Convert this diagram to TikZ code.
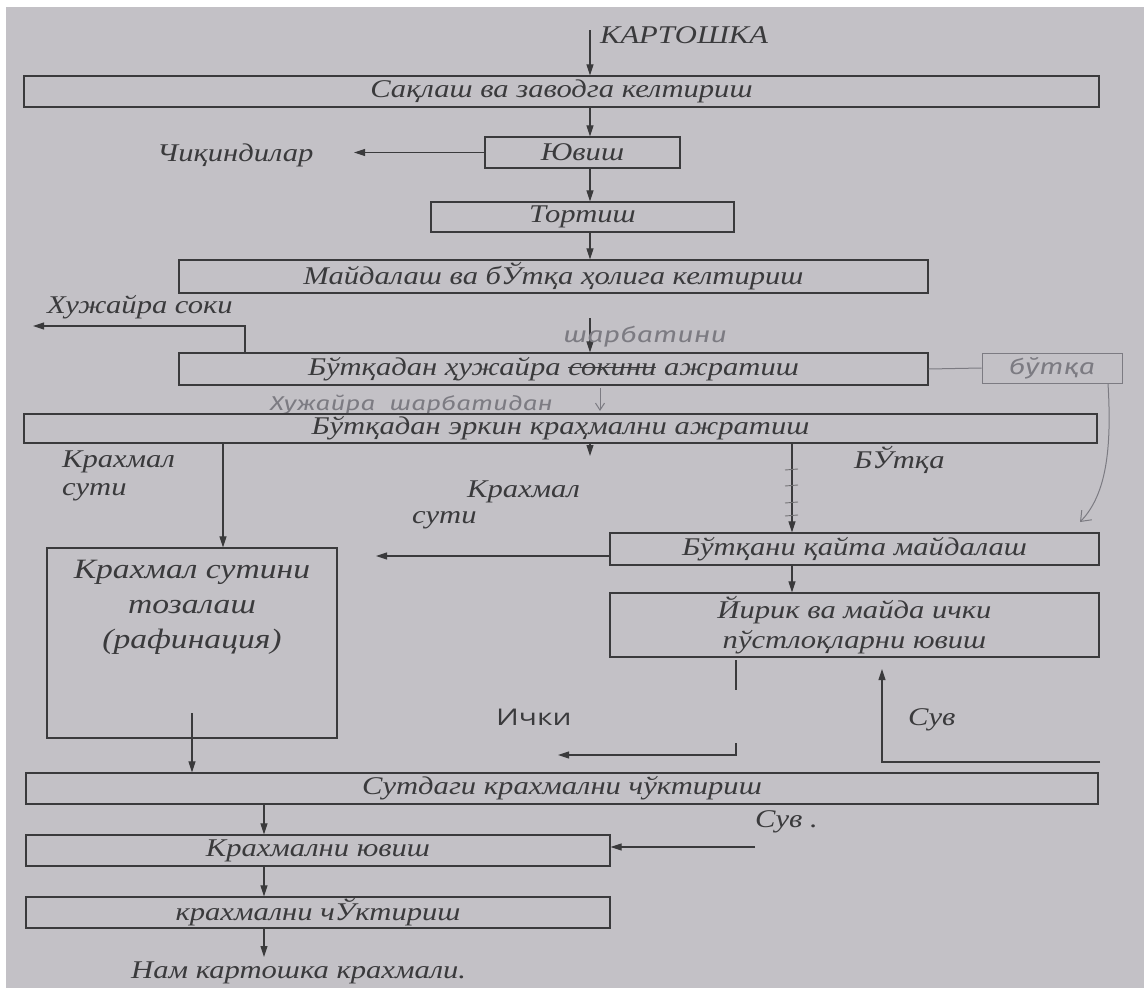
\documentclass[tikz,border=0pt]{standalone}
\usepackage{fontspec}
\setmainfont{Liberation Serif}[FakeStretch=1.2]
\newfontfamily\sansf{Open Sans}[FakeStretch=1.3]
\newfontfamily\handf{Fira Sans}[FakeStretch=1.3]
\usetikzlibrary{arrows.meta}
\definecolor{bgc}{HTML}{C3C1C6}
\definecolor{ink}{HTML}{3A3A3C}
\definecolor{pencil}{HTML}{7C7B82}
\newcommand\mystrike[1]{\setbox0\hbox{#1}\rlap{\raisebox{0.3em}{\rule{\wd0}{0.9pt}}}\box0\relax}
\begin{document}
\begin{tikzpicture}[x=1pt,y=-1pt,
  box/.style={draw=ink, line width=1.2pt, inner sep=0pt, text=ink, font=\fontsize{25.5}{28}\selectfont\itshape},
  lbl/.style={text=ink, inner sep=0pt, font=\fontsize{25.5}{28}\selectfont\itshape},
  arr/.style={draw=ink, line width=1.1pt, -{Triangle[length=11pt,width=7pt]}},
  ln/.style={draw=ink, line width=1.1pt},
  hand/.style={text=pencil, inner sep=0pt, font=\fontsize{22}{26}\selectfont\handf\itshape},
  handln/.style={draw=pencil, line width=1pt},
  tick/.style={draw=ink!60!bgc, line width=0.9pt}
]
\fill[white] (0,0) rectangle (1144,993);
\fill[bgc] (6,7) rectangle (1144,988);
\useasboundingbox (0,0) rectangle (1144,993);

\coordinate (ax) at (590,0);
\coordinate (x245) at (245,0);
\coordinate (x223) at (223,0);
\coordinate (x792) at (792,0);
\coordinate (x264) at (264,0);
\coordinate (x1108) at (1108,0);

% top
\node[lbl, anchor=west] (kart) at (600,35) {КАРТОШКА};
\coordinate (k0) at (590,30);
\node[box, minimum width=1075pt, minimum height=31pt] (A) at (561.5,91.5) {Сақлаш ва заводга келтириш};
\draw[arr] (k0) -- (k0 |- A.north);

\node[box, minimum width=195pt, minimum height=31pt] (yuv) at (582.5,152.5) {Ювиш};
\draw[arr] (A.south -| ax) -- (yuv.north -| ax);
\node[lbl, anchor=west] (chik) at (157,155) {Чиқиндилар};
\coordinate (chikend) at (354,152.5);
\draw[arr] (yuv.west) -- (chikend);

\node[box, minimum width=303pt, minimum height=30pt] (tort) at (582.5,217) {Тортиш};
\draw[arr] (yuv.south -| ax) -- (tort.north -| ax);

\node[box, minimum width=749pt, minimum height=33pt] (may) at (553.5,276.5) {Майдалаш ва бЎтқа ҳолига келтириш};
\draw[arr] (tort.south -| ax) -- (may.north -| ax);

\node[box, minimum width=749pt, minimum height=32pt] (bh) at (553.5,369) {Бўтқадан ҳужайра \mystrike{сокини} ажратиш};
\coordinate (m1) at (590,318);
\draw[arr] (m1) -- (m1 |- bh.north);
\node[hand, anchor=west] (sharb) at (563,337) {шарбатини};

\node[lbl, anchor=west] (xs) at (47,307) {Хужайра соки};
\coordinate (xsend) at (33,326);
\draw[arr] (bh.north -| x245) |- (xsend);

\node[hand, draw=pencil, line width=1pt, minimum width=140pt, minimum height=30pt] (bt) at (1052,368) {бўтқа};
\draw[handln] (bh.east) -- (bt.west);
\coordinate (bqtip) at (1080,522);
\draw[handln, -{Straight Barb[length=9pt,width=14pt]}] (bt.south -| x1108) .. controls (1112,450) and (1106,495) .. (bqtip);

\node[hand, anchor=west, font=\fontsize{20}{24}\selectfont\handf\itshape] (xsh) at (270,405) {Хужайра\hspace{14pt}шарбатидан};
\coordinate (h1) at (600,388);
\coordinate (h2) at (600,411);
\draw[handln, -{Straight Barb[length=7pt,width=9pt]}] (h1) -- (h2);

\node[box, minimum width=1073pt, minimum height=29pt] (Be) at (560.5,428.5) {Бўтқадан эркин краҳмални ажратиш};
\coordinate (smalltip) at (590,456);
\draw[arr] (Be.south -| ax) -- (smalltip);

% left branch
\node[box, minimum width=290pt, minimum height=190pt] (ks) at (192,643) {};
\node[text=ink, align=center, inner sep=0pt, font=\fontsize{28}{35}\selectfont\itshape] (kst) at (192,607) {Крахмал сутини\\тозалаш\\(рафинация)};
\draw[arr] (Be.south -| x223) -- (ks.north -| x223);
\node[lbl, anchor=west, align=left] (ks1) at (62,476) {Крахмал\\сути};
\node[lbl, anchor=west] (ks2a) at (467,492) {Крахмал};
\node[lbl, anchor=west] (ks2b) at (412,520) {сути};

% right branch
\node[box, minimum width=489pt, minimum height=32pt] (bq) at (854.5,549) {Бўтқани қайта майдалаш};
\draw[arr] (Be.south -| x792) -- (bq.north -| x792);
\foreach \t in {470,486,503,516} \draw[tick] (785,\t) -- (798,\t-1);
\node[lbl, anchor=west] (bu) at (854,460) {БЎтқа};
\coordinate (bqa) at (376,556);
\draw[arr] (bq.west |- bqa) -- (bqa);

\node[box, minimum width=489pt, minimum height=64pt, align=center, font=\fontsize{25.5}{30}\selectfont\itshape] (yir) at (854.5,625) {Йирик ва майда ички\\пўстлоқларни ювиш};
\draw[arr] (bq.south -| x792) -- (yir.north -| x792);

\coordinate (i1) at (736,660);
\coordinate (i2) at (736,690);
\coordinate (i3) at (736,743);
\coordinate (ichend) at (558,755);
\draw[ln] (i1) -- (i2);
\draw[arr] (i3) |- (ichend);
\node[text=ink, inner sep=0pt, anchor=west, font=\fontsize{23}{26}\selectfont\sansf] (ich) at (496,717) {Ички};

\coordinate (suvs) at (1100,762);
\coordinate (suvtip) at (882,669);
\draw[arr] (suvs) -| (suvtip);
\node[lbl, anchor=west] (suv1) at (908,720) {Сув};

% bottom
\node[box, minimum width=1072pt, minimum height=31pt] (sut) at (562,788.5) {Сутдаги крахмални чўктириш};
\coordinate (x192) at (192,713);
\draw[arr] (x192) -- (x192 |- sut.north);

\node[box, minimum width=584pt, minimum height=31pt] (kyu) at (318,850.5) {Крахмални ювиш};
\draw[arr] (sut.south -| x264) -- (kyu.north -| x264);
\node[lbl, anchor=west] (suv2) at (755,822) {Сув .};
\coordinate (suv2s) at (755,847);
\draw[arr] (suv2s) -- (suv2s -| kyu.east);

\node[box, minimum width=584pt, minimum height=31pt] (kch) at (318,912.5) {крахмални чЎктириш};
\draw[arr] (kyu.south -| x264) -- (kch.north -| x264);
\node[lbl, anchor=west] (nam) at (131,973) {Нам картошка крахмали.};
\coordinate (namtip) at (264,957);
\draw[arr] (kch.south -| x264) -- (namtip);
\end{tikzpicture}
\end{document}
